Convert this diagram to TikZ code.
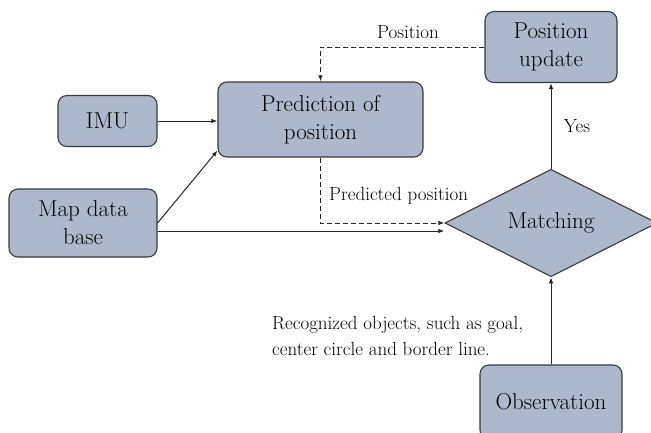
\documentclass[tikz,border=0pt]{standalone}
\usepackage{mathptmx}
\usepackage{tikz}
\usetikzlibrary{arrows.meta,shapes.geometric}
\definecolor{boxfill}{HTML}{ADB9CA}
\definecolor{boxline}{HTML}{3A3A3A}
\newcommand{\bigtext}{\fontsize{23}{28}\selectfont}
\newcommand{\smalltext}{\fontsize{19}{26}\selectfont}
\tikzstyle{box}=[rectangle,rounded corners=9pt,draw=boxline,fill=boxfill,line width=1.1pt,text=black,font=\bigtext,align=center,inner sep=0pt]
\tikzstyle{test}=[diamond,draw=boxline,fill=boxfill,line width=1.1pt,text=black,font=\bigtext,inner sep=0pt,minimum width=212pt,minimum height=107pt]
\tikzstyle{flow}=[-{Latex[length=6pt,width=4.5pt]},line width=1pt,draw=black!85]
\tikzstyle{back}=[flow,dash pattern=on 5pt off 3pt]
\tikzstyle{lbl}=[font=\smalltext,inner sep=0pt]

\begin{document}
\begin{tikzpicture}[x=1pt,y=-1pt]
  \useasboundingbox (0,0) rectangle (651,432);

  \node[box,minimum width=132pt,minimum height=71pt] (U) at (551,47) {Position\\update};
  \node[box,minimum width=205pt,minimum height=75pt] (P) at (320.5,119.5) {Prediction of\\position};
  \node[box,minimum width=99pt,minimum height=51pt] (I) at (107.5,121) {IMU};
  \node[box,minimum width=148pt,minimum height=68pt] (D) at (83,223) {Map data\\base};
  \node[test] (M) at (551,223) {Matching};
  \node[box,minimum width=142pt,minimum height=74pt] (O) at (551,402) {Observation};

  \draw[flow] (I.east)--(I.east-|P.west);
  \draw[flow] (D.east)--([yshift=7pt]P.south west);
  \draw[flow] ([yshift=-8pt]D.east)--([yshift=-8pt]M.west);
  \draw[back] (P.south)--(P.south|-M.west)--(M.west);
  \draw[back] (U.west)--(U.west-|P.north)--(P.north);
  \draw[flow] (M.north)--(U.south);
  \draw[flow] (O.north)--(M.south);
  % les textes
  \node[lbl] (pos) at (408,32) {Position};
  \node[lbl,anchor=west] (ppos) at (329,196) {Predicted position};
  \node[lbl] (yes) at (577,126) {Yes};
  \node[lbl,anchor=west,align=left] (rec) at (272,336) {Recognized objects, such as goal,\\center circle and border line.};

\end{tikzpicture}
\end{document}
